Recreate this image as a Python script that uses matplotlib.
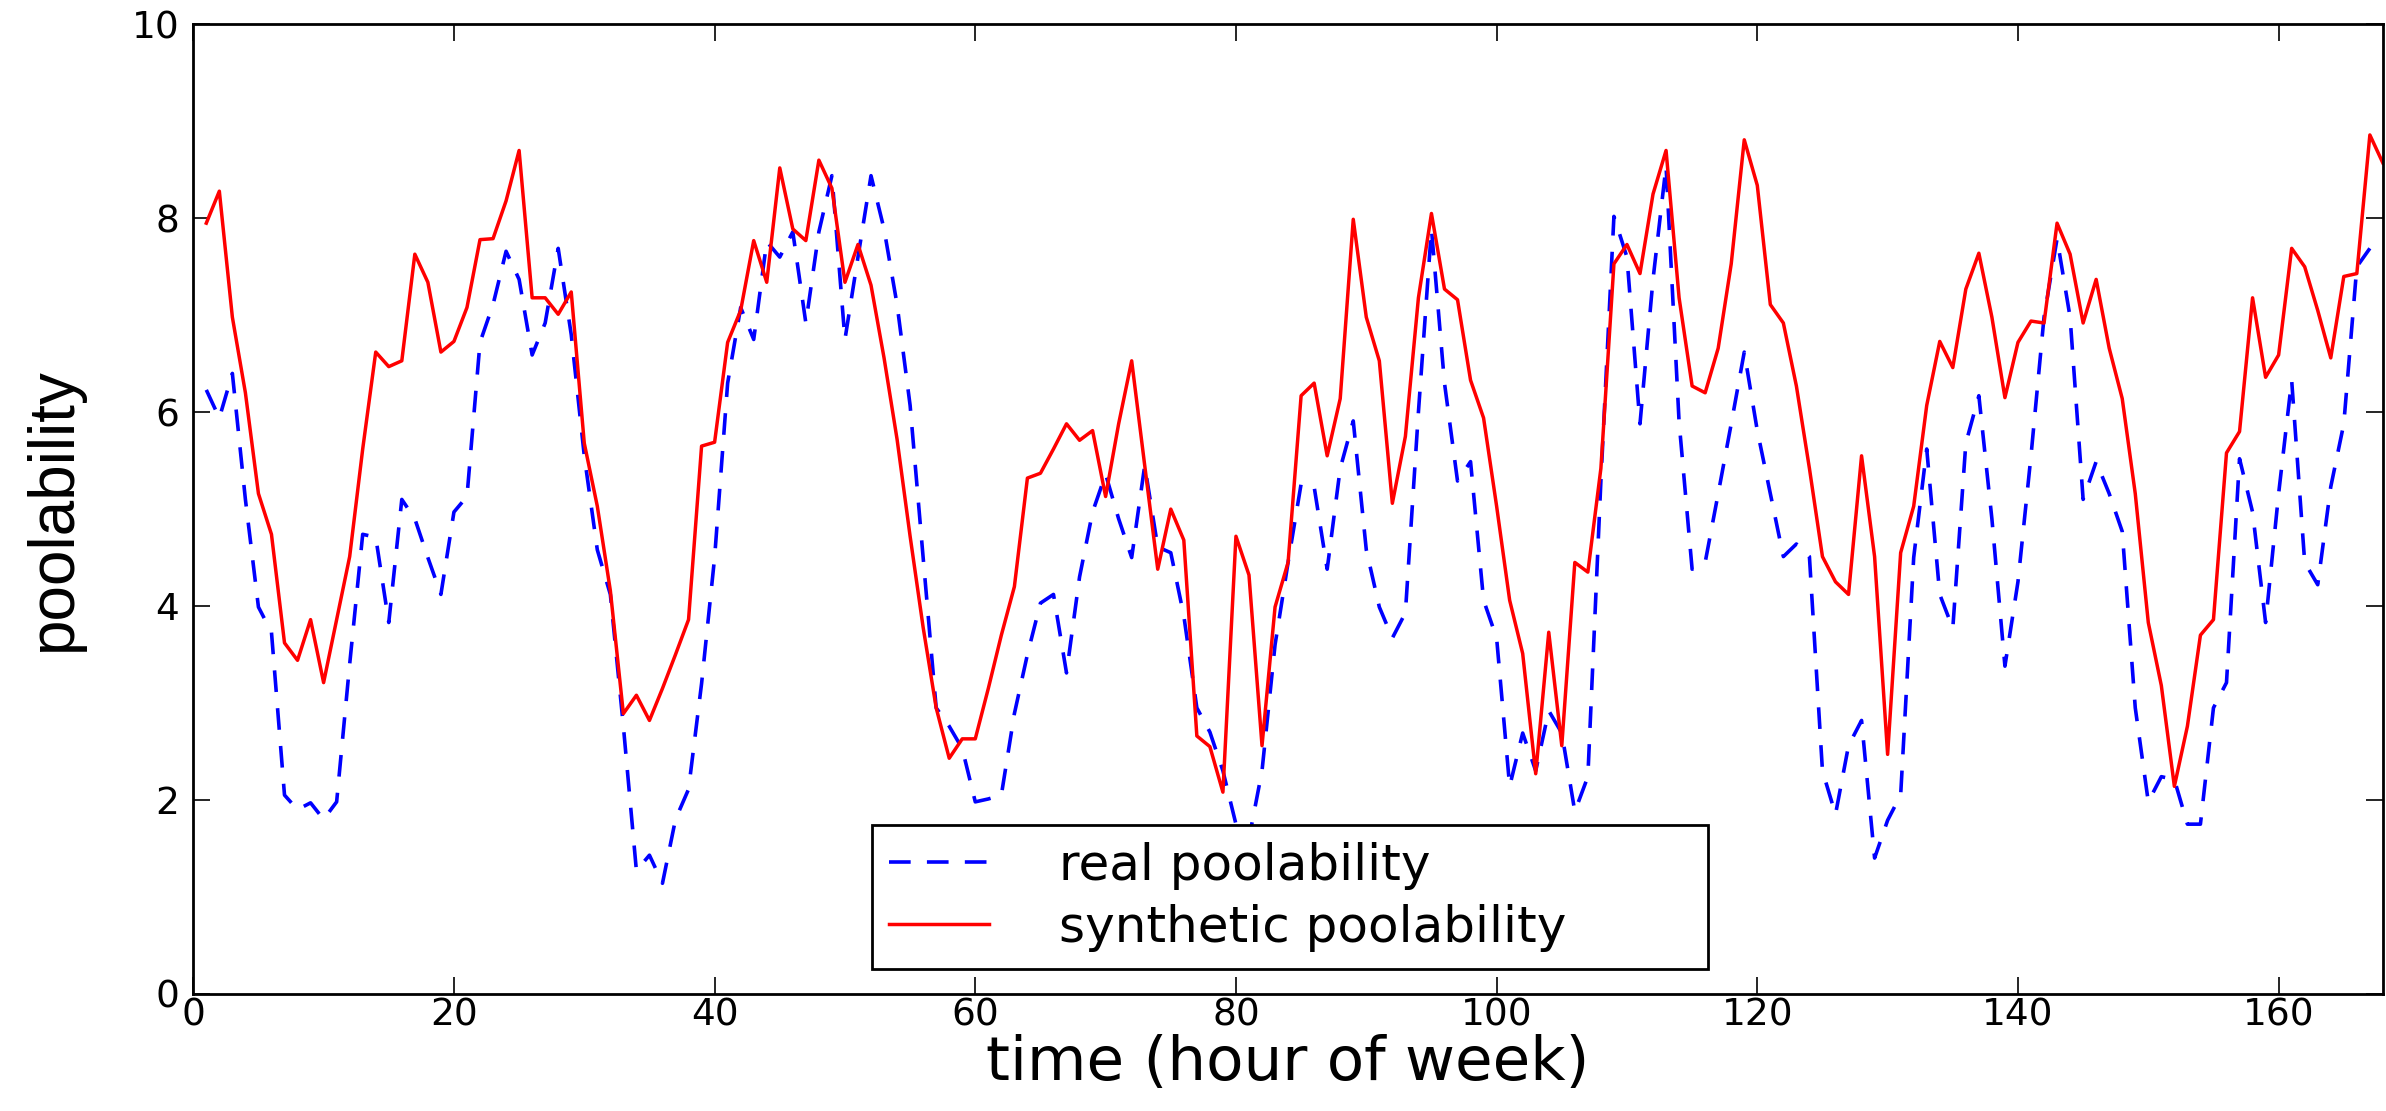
import matplotlib
matplotlib.use("Agg")
import matplotlib.pyplot as plt
import numpy as np

# hourly values (hour 1 .. 168)
real_poolability = [
    6.23, 5.94, 6.40, 5.10, 3.99, 3.73, 2.05, 1.90, 1.97, 1.80,
    1.98, 3.40, 4.74, 4.71, 3.83, 5.10, 4.90, 4.50, 4.12, 4.97,
    5.13, 6.72, 7.11, 7.66, 7.37, 6.59, 6.92, 7.69, 6.80, 5.55,
    4.58, 4.12, 2.76, 1.27, 1.43, 1.14, 1.80, 2.11, 3.20, 4.50,
    6.30, 7.08, 6.75, 7.76, 7.60, 7.86, 6.92, 7.86, 8.44, 6.75,
    7.60, 8.44, 7.89, 7.11, 6.07, 4.50, 2.95, 2.76, 2.53, 1.98,
    2.01, 2.05, 2.89, 3.50, 4.03, 4.12, 3.31, 4.30, 4.97, 5.36,
    4.90, 4.50, 5.45, 4.61, 4.55, 3.90, 2.95, 2.70, 2.30, 1.75,
    1.60, 2.30, 3.60, 4.45, 5.26, 5.23, 4.38, 5.42, 5.91, 4.58,
    3.99, 3.67, 3.93, 6.00, 7.89, 6.30, 5.29, 5.49, 4.06, 3.67,
    2.14, 2.69, 2.30, 2.92, 2.69, 1.88, 2.24, 5.29, 8.02, 7.60,
    5.88, 7.37, 8.54, 5.90, 4.38, 4.45, 5.16, 5.88, 6.62, 5.81,
    5.16, 4.51, 4.64, 4.51, 2.30, 1.85, 2.56, 2.82, 1.40, 1.79,
    2.05, 4.50, 5.62, 4.12, 3.77, 5.68, 6.17, 4.90, 3.38, 4.25,
    5.55, 6.98, 7.79, 6.98, 5.10, 5.49, 5.16, 4.77, 2.95, 1.98,
    2.24, 2.21, 1.75, 1.75, 2.95, 3.21, 5.52, 4.97, 3.83, 5.16,
    6.33, 4.45, 4.22, 5.23, 5.88, 7.50, 7.69,
]

synthetic_poolability = [
    7.95, 8.28, 6.98, 6.20, 5.16, 4.74, 3.62, 3.44, 3.86, 3.21,
    3.86, 4.51, 5.62, 6.62, 6.47, 6.53, 7.63, 7.34, 6.62, 6.73,
    7.08, 7.78, 7.79, 8.18, 8.70, 7.18, 7.18, 7.01, 7.24, 5.68,
    5.03, 4.16, 2.89, 3.08, 2.82, 3.15, 3.50, 3.86, 5.65, 5.69,
    6.72, 7.05, 7.77, 7.34, 8.52, 7.89, 7.77, 8.60, 8.31, 7.34,
    7.73, 7.31, 6.56, 5.72, 4.72, 3.78, 2.95, 2.43, 2.63, 2.63,
    3.15, 3.70, 4.20, 5.32, 5.37, 5.62, 5.88, 5.71, 5.81, 5.13,
    5.88, 6.53, 5.45, 4.38, 5.00, 4.68, 2.66, 2.55, 2.08, 4.72,
    4.32, 2.56, 3.99, 4.45, 6.17, 6.30, 5.55, 6.14, 7.99, 6.98,
    6.53, 5.06, 5.75, 7.18, 8.05, 7.27, 7.16, 6.33, 5.94, 5.03,
    4.06, 3.51, 2.27, 3.73, 2.56, 4.45, 4.35, 5.42, 7.53, 7.73,
    7.43, 8.25, 8.70, 7.18, 6.27, 6.20, 6.66, 7.53, 8.81, 8.34,
    7.11, 6.92, 6.27, 5.42, 4.51, 4.25, 4.12, 5.55, 4.51, 2.47,
    4.55, 5.03, 6.07, 6.73, 6.46, 7.27, 7.64, 6.98, 6.15, 6.72,
    6.94, 6.92, 7.95, 7.63, 6.92, 7.37, 6.66, 6.14, 5.16, 3.83,
    3.18, 2.14, 2.76, 3.70, 3.86, 5.58, 5.80, 7.18, 6.36, 6.59,
    7.69, 7.50, 7.05, 6.56, 7.40, 7.43, 8.86, 8.57,
]

real_hours = np.arange(1, len(real_poolability) + 1)
synth_hours = np.arange(1, len(synthetic_poolability) + 1)

fig = plt.figure(figsize=(23.86, 11.11), dpi=100)
ax = fig.add_axes([0.081, 0.1055, 0.9177, 0.8725])

ax.plot(real_hours, real_poolability, color='b', lw=2.6,
        linestyle=(0, (6, 4.5)), label='real poolability')
ax.plot(synth_hours, synthetic_poolability, color='r', lw=2.5,
        label='synthetic poolability')

ax.set_xlim(0, 168)
ax.set_ylim(0, 10)
ax.set_xticks(np.arange(0, 161, 20))
ax.set_yticks(np.arange(0, 11, 2))
ax.tick_params(direction='in', length=12, width=1.2, labelsize=27,
               top=True, right=True)
ax.tick_params(axis='x', pad=3)
ax.tick_params(axis='y', pad=10)
for s in ax.spines.values():
    s.set_linewidth(2)

ax.set_xlabel('time (hour of week)', fontsize=44, labelpad=0)
ax.set_ylabel('poolability', fontsize=46, family='Liberation Sans',
              labelpad=34)

leg = ax.legend(loc='lower left', bbox_to_anchor=(0.31, 0.026, 0.382, 0.15),
                mode='expand', borderaxespad=0, fontsize=36,
                handlelength=2.0, handletextpad=1.4, labelspacing=0.28,
                borderpad=0.34, fancybox=False, framealpha=1)
leg.get_frame().set_edgecolor('black')
leg.get_frame().set_linewidth(2)

fig.savefig('out.png', dpi=100)
